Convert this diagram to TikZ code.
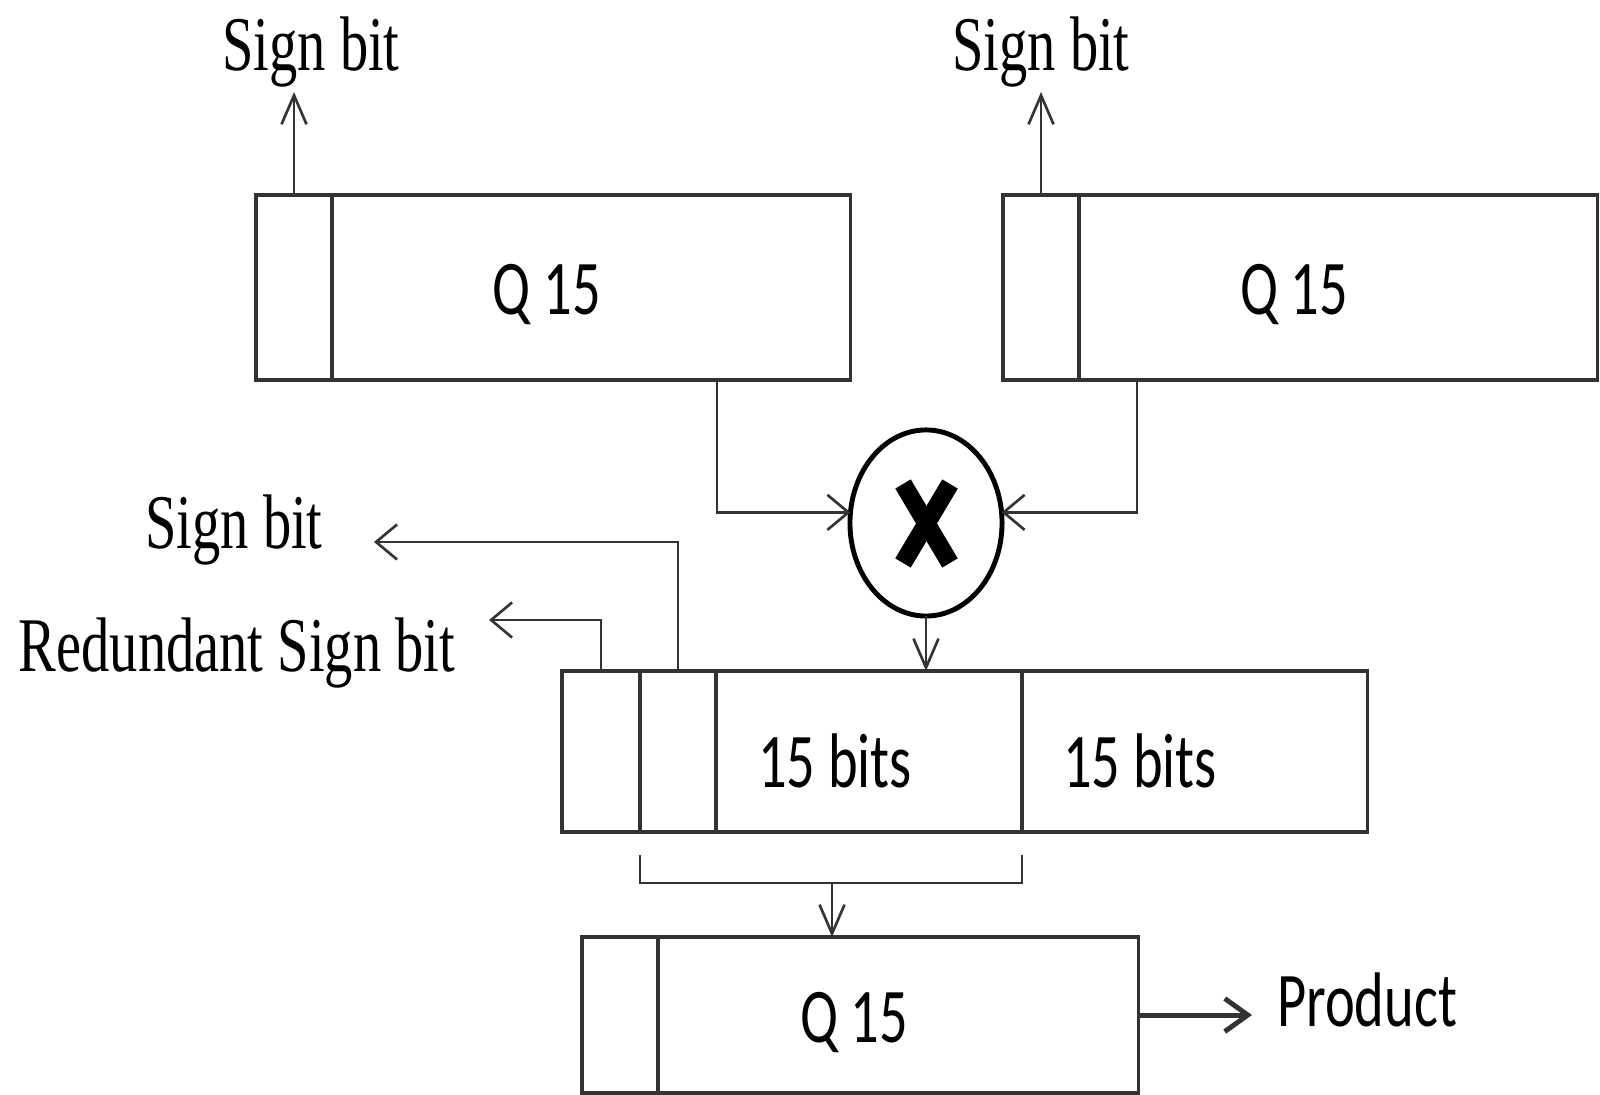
\documentclass[tikz,border=0pt]{standalone}
\usepackage{fontspec}
\usetikzlibrary{shapes.geometric,arrows.meta,calc}
\newfontfamily\serifc[FakeStretch=0.73]{Liberation Serif}
\newfontfamily\sansc[FakeStretch=0.73]{Carlito}
\definecolor{ln}{HTML}{333333}
\begin{document}
\begin{tikzpicture}[x=0.01cm,y=-0.01cm,
  cell/.style={draw=ln, line width=0.95pt, rectangle, inner sep=0pt, outer sep=0pt, anchor=north west},
  lbl/.style={inner sep=0pt, anchor=base, font=\fontsize{22}{26}\selectfont\serifc},
  slbl/.style={inner sep=0pt, anchor=base, font=\fontsize{22}{26}\selectfont\sansc},
  conn/.style={draw=ln, line width=0.75pt},
  arrh/.style={conn, -{Straight Barb[length=0.21cm,width=0.35cm]}},
  arrv/.style={conn, -{Straight Barb[length=0.29cm,width=0.25cm]}},
  mult/.style={ellipse, draw=black, line width=1.4pt, inner sep=0pt, outer sep=0pt, minimum width=1.52cm, minimum height=1.86cm}]
\useasboundingbox (0,0) rectangle (1600,1095);

% top-left register
\node[cell, minimum width=0.76cm, minimum height=1.85cm] (As) at (256,195) {};
\node[cell, minimum width=5.18cm, minimum height=1.85cm] (Am) at (332,195) {};
% top-right register
\node[cell, minimum width=0.76cm, minimum height=1.85cm] (Bs) at (1003,195) {};
\node[cell, minimum width=5.18cm, minimum height=1.85cm] (Bm) at (1079,195) {};
% middle product register
\node[cell, minimum width=0.78cm, minimum height=1.61cm] (C1) at (562,671) {};
\node[cell, minimum width=0.76cm, minimum height=1.61cm] (C2) at (640,671) {};
\node[cell, minimum width=3.06cm, minimum height=1.61cm] (C3) at (716,671) {};
\node[cell, minimum width=3.45cm, minimum height=1.61cm] (C4) at (1022,671) {};
% bottom register
\node[cell, minimum width=0.76cm, minimum height=1.56cm] (D1) at (582,937) {};
\node[cell, minimum width=4.80cm, minimum height=1.56cm] (D2) at (658,937) {};

% multiplier
\node[mult] (M) at (926,523) {};
\draw[black, line width=0.18cm] (903,484) -- (950,563);
\draw[black, line width=0.18cm] (950,484) -- (903,563);

% texts
\node[lbl] (SL) at (311,71) {Sign bit};
\node[lbl] (SR) at (1041,71) {Sign bit};
\node[lbl] (SM) at (234,549) {Sign bit};
\node[lbl] (RS) at (237,672) {Redundant Sign bit};
\node[slbl] (QA) at (547,315) {Q 15};
\node[slbl] (QB) at (1294,315) {Q 15};
\node[slbl] (T1) at (835,788) {15 bits};
\node[slbl] (T2) at (1140,788) {15 bits};
\node[slbl] (QD) at (854,1042) {Q 15};
\node[slbl] (P) at (1367,1027) {Product};

% connectors
\coordinate (tA) at (294,92);
\coordinate (tB) at (1041,92);
\draw[arrv] (As.north) -- (As.north |- tA);
\draw[arrv] (Bs.north) -- (Bs.north |- tB);

\coordinate (a1) at (717,380);
\coordinate (a2) at (1137,380);
\draw[arrh] (a1) |- (M.172);
\draw[arrh] (a2) |- (M.8);
\draw[arrv] (M.south) -- (M.south |- C3.north);

\coordinate (s2) at (374,542);
\coordinate (r2) at (489,620);
\draw[arrh] (C2.north) |- (s2);
\draw[arrh] (C1.north) |- (r2);

\coordinate (b1) at (640,855);
\coordinate (b2) at (1022,855);
\coordinate (bm) at (832,883);
\draw[conn] (b1) |- (bm) -| (b2);
\draw[arrv] (bm) -- (bm |- D2.north);

\coordinate (pe) at (1252,1015);
\draw[draw=ln, line width=1.4pt, -{Straight Barb[length=0.23cm,width=0.33cm]}] (D2.east) -- (D2.east -| pe);
\end{tikzpicture}
\end{document}
